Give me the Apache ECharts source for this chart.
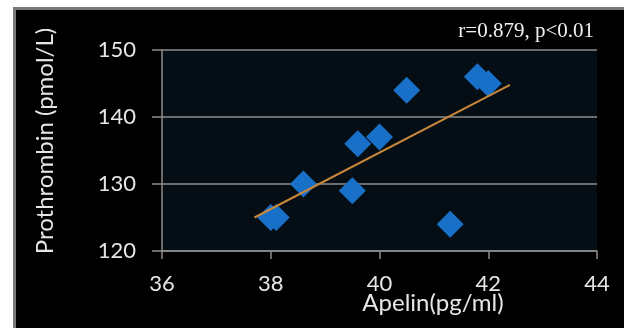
<!DOCTYPE html>
<html>
<head>
<meta charset="utf-8">
<style>
  html, body { margin: 0; padding: 0; background: #ffffff; }
  #chart { width: 624px; height: 328px; }
</style>
<script src="https://cdn.jsdelivr.net/npm/echarts@6/dist/echarts.min.js"></script>
</head>
<body>
<div id="chart"></div>
<script>
// Apelin vs prothrombin measurements
const apelin      = [38.0, 38.1, 38.6, 39.5, 39.6, 40.0, 40.5, 41.3, 41.8, 42.0];
const prothrombin = [125,  125,  130,  129,  136,  137,  144,  124,  146,  145];

// Linear trend line end points
const trendX = [37.7, 42.4];
const trendY = [125.0, 144.8];

// Axis ranges and ticks
const xTicks = [36, 38, 40, 42, 44];
const yTicks = [120, 130, 140, 150];

const xTitle = 'Apelin(pg/ml)';
const yTitle = 'Prothrombin (pmol/L)';
const statText = 'r=0.879, p<0.01';

const chart = echarts.init(document.getElementById('chart'), null, { renderer: 'canvas' });

const labelFont = 'Lato, "Open Sans", sans-serif';
const axisGray = '#8c8c8c';
const textColor = '#e6e6e6';

chart.setOption({
  backgroundColor: '#ffffff',
  animation: false,
  graphic: [
    {
      type: 'rect',
      z: -10,
      shape: { x: 14.5, y: 8.5, width: 620, height: 330 },
      style: { fill: '#000000', stroke: '#7a7a7a', lineWidth: 3 }
    },
    {
      type: 'text',
      z: 10,
      x: 594,
      y: 31,
      style: {
        text: statText,
        fill: '#f2f2f2',
        font: '21px "Liberation Serif", serif',
        align: 'right',
        verticalAlign: 'middle'
      }
    },
    {
      type: 'text',
      z: 10,
      x: 433,
      y: 303,
      style: {
        text: xTitle,
        fill: textColor,
        font: '24px ' + labelFont,
        align: 'center',
        verticalAlign: 'middle'
      }
    },
    {
      type: 'text',
      z: 10,
      x: 45,
      y: 141,
      rotation: Math.PI / 2,
      style: {
        text: yTitle,
        fill: textColor,
        font: '24px ' + labelFont,
        align: 'center',
        verticalAlign: 'middle'
      }
    }
  ],
  grid: {
    left: 162,
    right: 27,
    top: 50,
    bottom: 77,
    show: true,
    backgroundColor: '#050e15',
    borderWidth: 0
  },
  xAxis: {
    type: 'value',
    min: xTicks[0],
    max: xTicks[xTicks.length - 1],
    interval: xTicks[1] - xTicks[0],
    axisLine: { show: true, onZero: false, lineStyle: { color: axisGray, width: 1.5 } },
    axisTick: { show: true, inside: false, length: 8, lineStyle: { color: axisGray, width: 1.5 } },
    splitLine: { show: false },
    axisLabel: {
      color: textColor,
      fontFamily: labelFont,
      fontSize: 22,
      margin: 22
    }
  },
  yAxis: {
    type: 'value',
    min: yTicks[0],
    max: yTicks[yTicks.length - 1],
    interval: yTicks[1] - yTicks[0],
    axisLine: { show: true, onZero: false, lineStyle: { color: axisGray, width: 1.5 } },
    axisTick: { show: true, inside: false, length: 10, lineStyle: { color: axisGray, width: 1.5 } },
    splitLine: { show: true, lineStyle: { color: axisGray, width: 1.5 } },
    axisLabel: {
      color: textColor,
      fontFamily: labelFont,
      fontSize: 22,
      margin: 26
    }
  },
  series: [
    {
      type: 'scatter',
      symbol: 'diamond',
      symbolSize: [27, 27],
      itemStyle: { color: '#1870c8', opacity: 1 },
      data: apelin.map((x, i) => [x, prothrombin[i]]),
      z: 3
    },
    {
      type: 'line',
      symbol: 'none',
      lineStyle: { color: '#c8883c', width: 2 },
      data: trendX.map((x, i) => [x, trendY[i]]),
      z: 4
    }
  ]
});
</script>
</body>
</html>
